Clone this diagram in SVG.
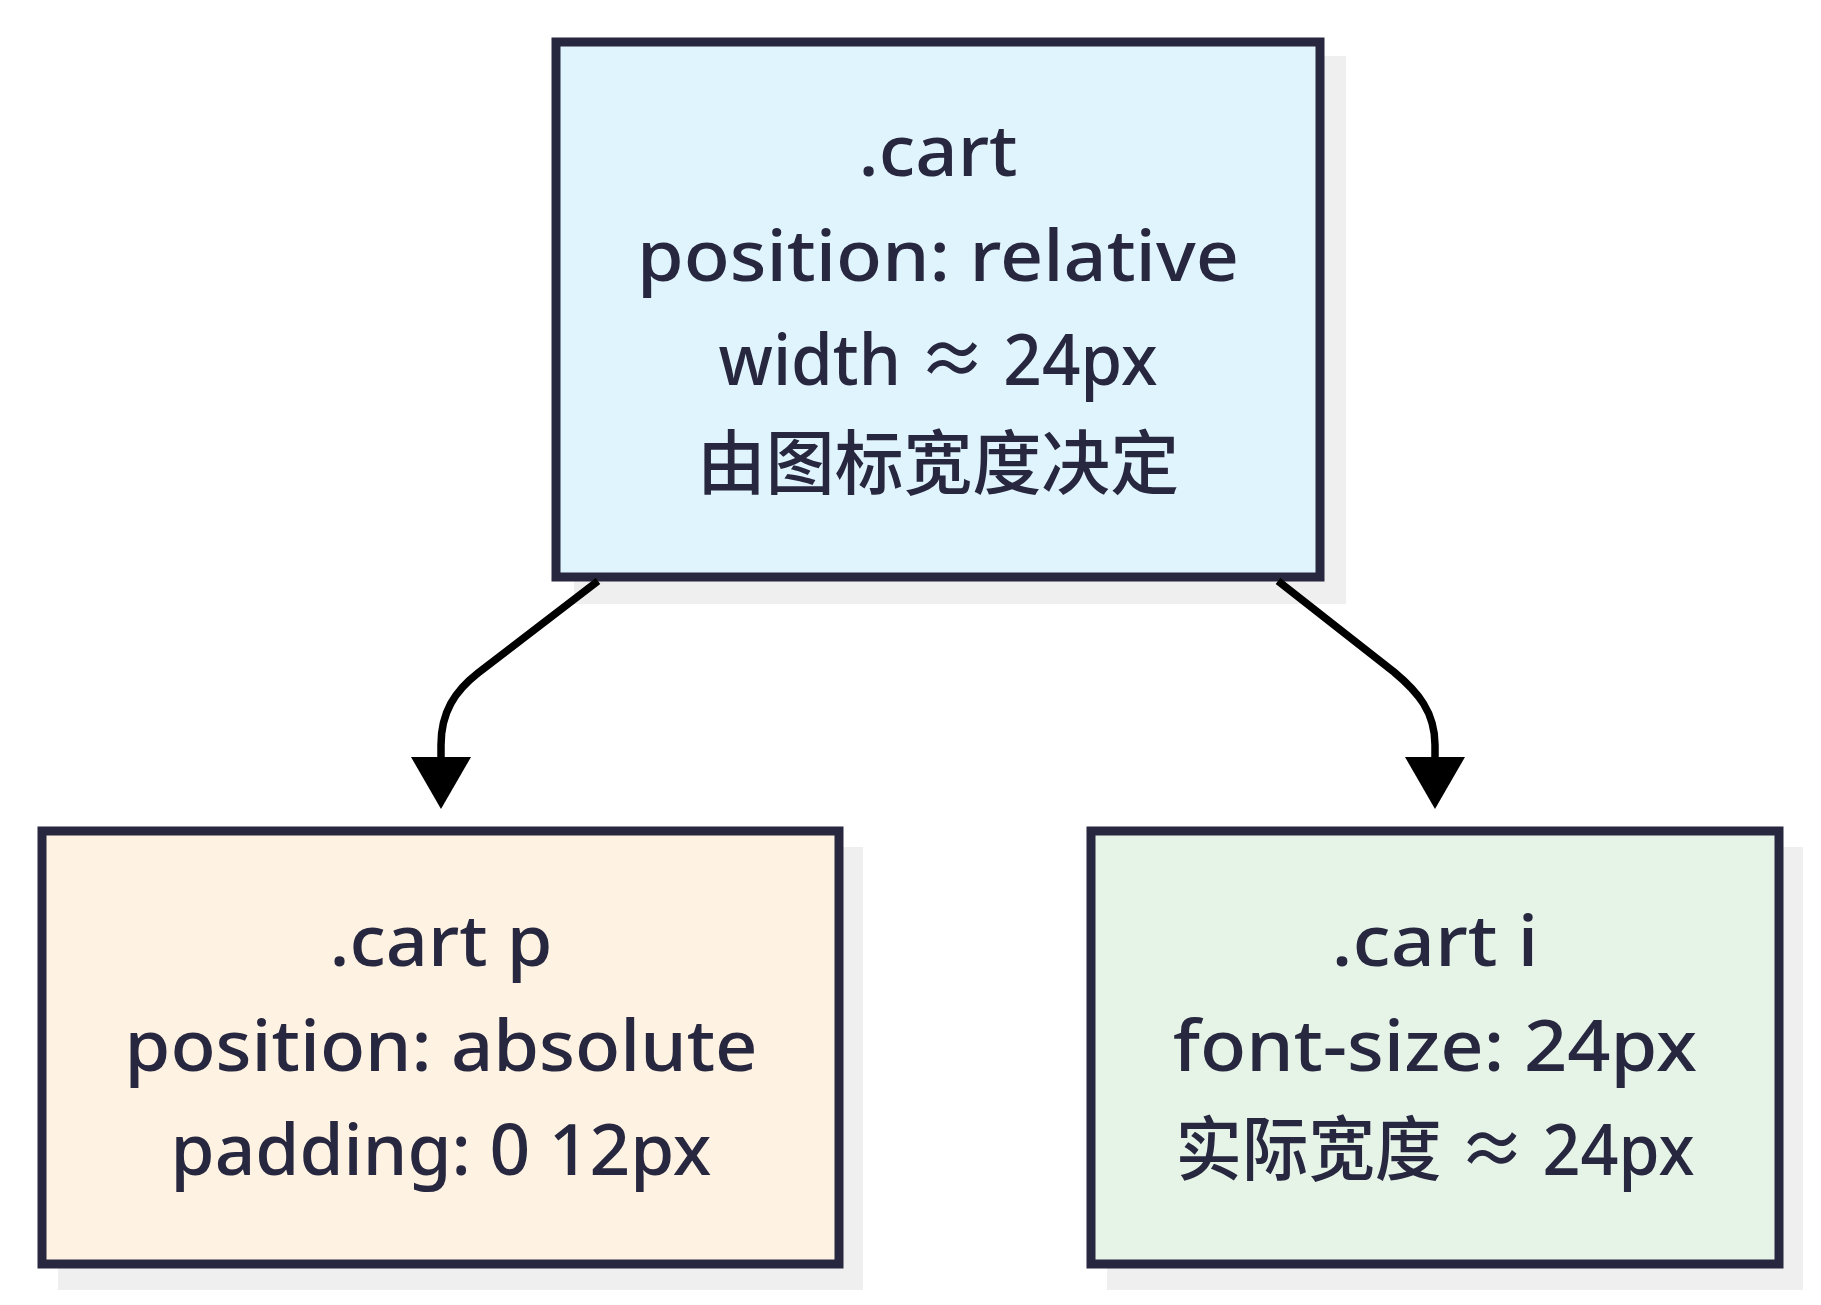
<svg xmlns="http://www.w3.org/2000/svg" width="1821" height="1305" viewBox="0 0 1821 1305">
<defs>
<style>
.shadow{fill:#efefef;}
.box{stroke:#27273f;stroke-width:9;}
.t{font-family:"Noto Sans","Noto Sans CJK SC",sans-serif;font-size:70px;font-weight:500;fill:#27273f;text-anchor:middle;}
.edge{fill:none;stroke:#000;stroke-width:7.5;}
</style>
<marker id="arrow" markerUnits="userSpaceOnUse" viewBox="0 0 52 60" markerWidth="52" markerHeight="60" refX="0" refY="30" orient="auto">
<path d="M0,0 L52,30 L0,60 z" fill="#000"/>
</marker>
</defs>
<rect width="1821" height="1305" fill="#ffffff"/>
<g id="node-cart">
<rect class="shadow" x="574" y="56" width="772" height="548"/>
<rect class="box" x="556" y="42" width="764" height="535" fill="#e0f4fd"/>
<text class="t" x="938" y="176" textLength="159" lengthAdjust="spacingAndGlyphs">.cart</text>
<text class="t" x="938" y="281" textLength="602" lengthAdjust="spacingAndGlyphs">position: relative</text>
<text class="t" x="938" y="385" textLength="439" lengthAdjust="spacingAndGlyphs">width ≈ 24px</text>
<text class="t" x="938" y="489" textLength="482" lengthAdjust="spacingAndGlyphs">由图标宽度决定</text>
</g>
<g id="node-cart-p">
<rect class="shadow" x="58" y="847" width="805" height="443"/>
<rect class="box" x="42" y="831" width="797" height="433" fill="#fef3e2"/>
<text class="t" x="441" y="966" textLength="223" lengthAdjust="spacingAndGlyphs">.cart p</text>
<text class="t" x="441" y="1071" textLength="633" lengthAdjust="spacingAndGlyphs">position: absolute</text>
<text class="t" x="441" y="1175" textLength="541" lengthAdjust="spacingAndGlyphs">padding: 0 12px</text>
</g>
<g id="node-cart-i">
<rect class="shadow" x="1107" y="847" width="696" height="443"/>
<rect class="box" x="1091" y="831" width="688" height="433" fill="#e6f4e8"/>
<text class="t" x="1435" y="966" textLength="207" lengthAdjust="spacingAndGlyphs">.cart i</text>
<text class="t" x="1435" y="1071" textLength="524" lengthAdjust="spacingAndGlyphs">font-size: 24px</text>
<text class="t" x="1435" y="1175" textLength="519" lengthAdjust="spacingAndGlyphs">实际宽度 ≈ 24px</text>
</g>
<g id="connectors">
<path class="edge" d="M598,581 L478,673 C455,691 441,712 441,745 L441,757" marker-end="url(#arrow)"/>
<path class="edge" d="M1278,581 L1394,672 C1418,692 1435,712 1435,745 L1435,757" marker-end="url(#arrow)"/>
</g>
</svg>
